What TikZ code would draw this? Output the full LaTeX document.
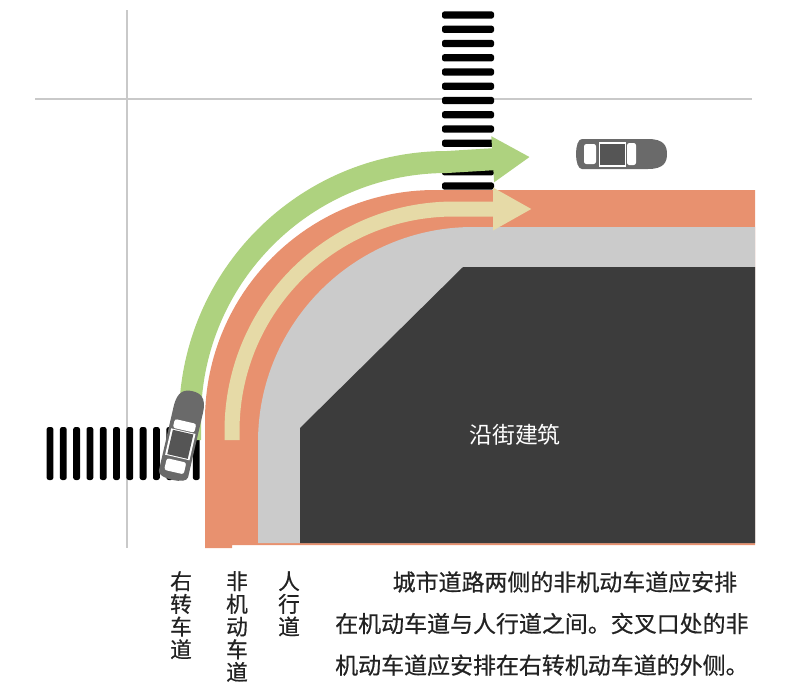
\documentclass[tikz,border=0pt]{standalone}
\usepackage{fontspec}
\setmainfont{Noto Sans CJK SC}
\newfontfamily\notefont{Noto Sans CJK SC}[FakeBold=0.6]
\usetikzlibrary{arrows.meta}
\definecolor{lanered}{HTML}{E8916F}
\definecolor{walkgray}{HTML}{CBCBCB}
\definecolor{housegray}{HTML}{3C3C3C}
\definecolor{turngreen}{HTML}{AED27F}
\definecolor{bikebeige}{HTML}{E6DAA7}
\definecolor{guidegray}{HTML}{C9C9C9}
\definecolor{cargray}{HTML}{6A6A6A}
\definecolor{roofgray}{HTML}{555555}
\definecolor{textgray}{HTML}{222222}

\begin{document}
\begin{tikzpicture}[x=0.3mm, y=-0.3mm,
    guide/.style={guidegray, line width=2.2pt},
    zebra/.style={fill=black, rounded corners=2pt},
    turnarrow/.style={draw=turngreen, line width=6.6mm, -{Triangle[length=11.2mm, width=13mm]}},
    bikearrow/.style={draw=bikebeige, line width=4.5mm, -{Triangle[length=11.7mm, width=12mm]}},
    lanelabel/.style={text=textgray, font=\notefont\fontsize{18.5}{19.4}\selectfont, align=center, inner sep=0pt, anchor=north},
    car/.pic={
        \fill[cargray] (-38,-15) -- (28,-15) .. controls (44,-15) and (47,-8) .. (47,0)
            .. controls (47,8) and (44,15) .. (28,15) -- (-38,15)
            .. controls (-46,15) and (-46,-15) .. (-38,-15) -- cycle;
        \fill[white, rounded corners=2pt] (-36,-10) rectangle (-24,10);
        \fill[white] (-21,-12.5) rectangle (6,12.5);
        \fill[roofgray] (-20,-10.5) rectangle (5,10.5);
        \fill[white, rounded corners=2pt] (7,-11) rectangle (16,11);
    }]
    \useasboundingbox (0,0) rectangle (792,686);

    \draw[guide] (127,10) -- (127,548);
    \draw[guide] (35,99) -- (752,99);

    \foreach \i in {0,...,12}
        \fill[zebra] (442,{15+14.25*\i-3.6}) rectangle (494,{15+14.25*\i+3.6});
    \foreach \i in {0,...,11}
        \fill[zebra] ({50+13.3*\i-3.4},427) rectangle ({50+13.3*\i+3.4},480);

    \fill[lanered] (205,548) -- (205,420) arc[start angle=180, end angle=270, radius=230]
        -- (755,190) -- (755,545) -- (232,545) -- (232,548) -- cycle;
    \fill[walkgray] (258,543) -- (258,442) arc[start angle=180, end angle=270, radius=215]
        -- (755,227) -- (755,543) -- cycle;
    \fill[housegray] (300,543) -- (300,428) -- (463,267) -- (755,267) -- (755,543) -- cycle;

    \draw[turnarrow] (190,440) -- (190,419) arc[start angle=180, end angle=270, radius=257] -- (530,157);
    \draw[bikearrow] (232,440) -- (232,431) arc[start angle=180, end angle=270, radius=222] -- (532,209);

    \pic[rotate=77] at (182,437) {car};
    \pic at (620,154) {car};

    \node[text=white, font=\fontsize{19.5}{20}\selectfont] (house) at (515,435) {沿街建筑};
    \node[lanelabel] (rightlane) at (181,571) {右\\转\\车\\道};
    \node[lanelabel] (bikelane) at (237,571) {非\\机\\动\\车\\道};
    \node[lanelabel] (walkway) at (289,571) {人\\行\\道};
    \node[text=textgray, font=\notefont\fontsize{19.6}{35.5}\selectfont, align=left, anchor=north west, inner sep=0pt]
        (note) at (335,571) {\hspace*{2.5em}城市道路两侧的非机动车道应安排\\在机动车道与人行道之间。交叉口处的非\\机动车道应安排在右转机动车道的外侧。};
\end{tikzpicture}
\end{document}
